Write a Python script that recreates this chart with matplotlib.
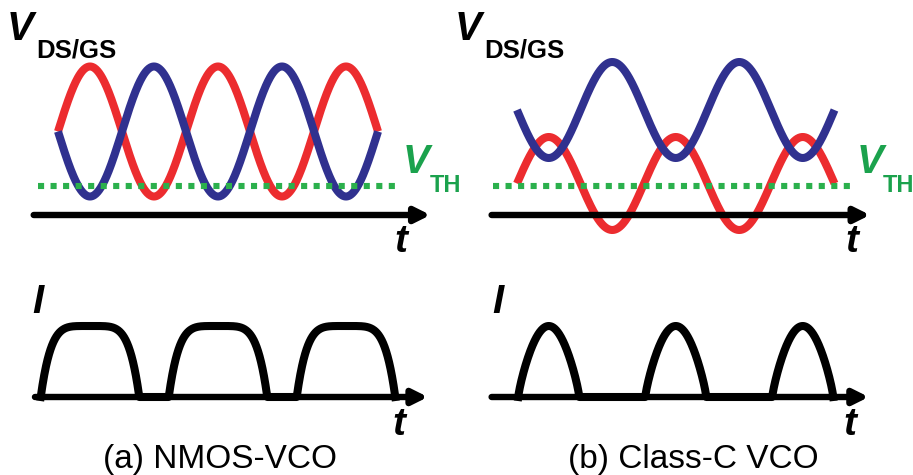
"""NMOS-VCO vs class-C VCO: drain/gate voltage and tail current waveforms."""

import matplotlib
import numpy as np

matplotlib.use("Agg")
import matplotlib.pyplot as plt

plt.rcParams["font.family"] = ["Liberation Sans", "DejaVu Sans"]

W, H = 913, 475

# waveform values (volts / normalised current, time in periods)
N_PERIODS = 2.5
VTH = 0.29
NMOS_BIAS, NMOS_SWING = 0.835, 0.65           # both outputs share bias, opposite phase
CLC_DRAIN_BIAS, CLC_DRAIN_SWING = 1.05, 0.48  # blue
CLC_GATE_BIAS, CLC_GATE_SWING = 0.315, 0.465  # red
PULSE_CENTERS = [0.25, 1.25, 2.25]
NMOS_PULSE_WIDTH = 0.77
CLC_PULSE_WIDTH = 0.48
PULSE_HEIGHT = 1.0
CAPTIONS = ["(a) NMOS-VCO", "(b) Class-C VCO"]

RED = "#ec2c2f"
BLUE = "#30318f"
GREEN_DOT = "#2bb04c"
GREEN_TXT = "#1ba24d"


def px_axes(fig, x0, y0, w, h, t0, period, base, scale):
    """axes on a pixel rect; t=0 at pixel x t0, value 0 at pixel y base."""
    ax = fig.add_axes([x0 / W, 1 - (y0 + h) / H, w / W, h / H])
    ax.set_xlim((x0 - t0) / period, (x0 + w - t0) / period)
    ax.set_ylim((base - (y0 + h)) / scale, (base - y0) / scale)
    ax.axis("off")
    return ax


def time_arrow(ax, t_from, t_to):
    ax.annotate("", xy=(t_to, 0), xytext=(t_from, 0),
                arrowprops=dict(arrowstyle="-|>", lw=4.6, color="black",
                                mutation_scale=22, shrinkA=0, shrinkB=0))


def pulses(t, width, shape):
    out = np.zeros_like(t)
    for c in PULSE_CENTERS:
        u = (t - (c - width / 2)) / width
        m = (u >= 0) & (u <= 1)
        if shape == "flat":
            out[m] = PULSE_HEIGHT * (1 - np.abs(2 * u[m] - 1) ** 5)
        else:
            out[m] = PULSE_HEIGHT * np.sin(np.pi * u[m]) ** 0.8
    return out


def label(x, y, s, size, color="black", style="italic", weight="bold", ha="left"):
    fig.text(x / W, 1 - y / H, s, fontsize=size, color=color, fontstyle=style,
             fontweight=weight, ha=ha, va="baseline")


fig = plt.figure(figsize=(W / 100, H / 100), dpi=100)

t = np.linspace(0, N_PERIODS, 600)
ph = np.sin(2 * np.pi * t)

# (a) NMOS-VCO voltages
ax = px_axes(fig, 0, 0, 456, 260, 58, 128, 215, 100)
ax.plot(t, NMOS_BIAS + NMOS_SWING * ph, color=RED, lw=5.8, solid_capstyle="butt")
ax.plot(t, NMOS_BIAS - NMOS_SWING * ph, color=BLUE, lw=5.8, solid_capstyle="butt")
ax.plot([-0.16, 2.67], [VTH, VTH], color=GREEN_DOT, lw=4.4, dashes=(1, 1.05),
        dash_capstyle="butt")
time_arrow(ax, -0.19, 2.91)

# (b) class-C voltages
ax = px_axes(fig, 456, 0, 457, 260, 517, 127, 215, 100)
ax.plot(t, CLC_GATE_BIAS + CLC_GATE_SWING * ph, color=RED, lw=5.8, solid_capstyle="butt")
ax.plot(t, CLC_DRAIN_BIAS - CLC_DRAIN_SWING * ph, color=BLUE, lw=5.8, solid_capstyle="butt")
ax.plot([-0.19, 2.66], [VTH, VTH], color=GREEN_DOT, lw=4.4, dashes=(1, 1.05),
        dash_capstyle="butt")
time_arrow(ax, -0.20, 2.78)

# currents (traced only over the pulse span, the arrow is the zero line)
ax = px_axes(fig, 0, 260, 456, 215, 58, 128, 397, 71)
ti = np.linspace(PULSE_CENTERS[0] - NMOS_PULSE_WIDTH / 2,
                 PULSE_CENTERS[-1] + NMOS_PULSE_WIDTH / 2, 1200)
ax.plot(ti, pulses(ti, NMOS_PULSE_WIDTH, "flat"), color="black", lw=5.8,
        solid_joinstyle="round")
time_arrow(ax, -0.18, 2.89)

ax = px_axes(fig, 456, 260, 457, 215, 517, 127, 397, 71)
ti = np.linspace(PULSE_CENTERS[0] - CLC_PULSE_WIDTH / 2,
                 PULSE_CENTERS[-1] + CLC_PULSE_WIDTH / 2, 1200)
ax.plot(ti, pulses(ti, CLC_PULSE_WIDTH, "arch"), color="black", lw=5.8,
        solid_joinstyle="round")
time_arrow(ax, -0.20, 2.77)

# labels
for dx in (0, 448):
    label(7 + dx, 40, "V", 29)
    label(36 + dx, 58, "DS/GS", 18.5, style="normal")
    label(394 + dx + (3 if dx else 0), 252, "t", 28)
    label(392 + dx + (3 if dx else 0), 435, "t", 28)
    label(32 + dx + (12 if dx else 0), 313, "I", 29)
label(403, 173, "V", 29, color=GREEN_TXT)
label(430, 192, "TH", 17, color=GREEN_TXT, style="normal")
label(857, 173, "V", 29, color=GREEN_TXT)
label(883, 192, "TH", 17, color=GREEN_TXT, style="normal")

label(220, 468, CAPTIONS[0], 24, style="normal", weight="normal", ha="center")
label(693, 468, CAPTIONS[1], 24, style="normal", weight="normal", ha="center")

fig.savefig("out.png", dpi=100, facecolor="white")
